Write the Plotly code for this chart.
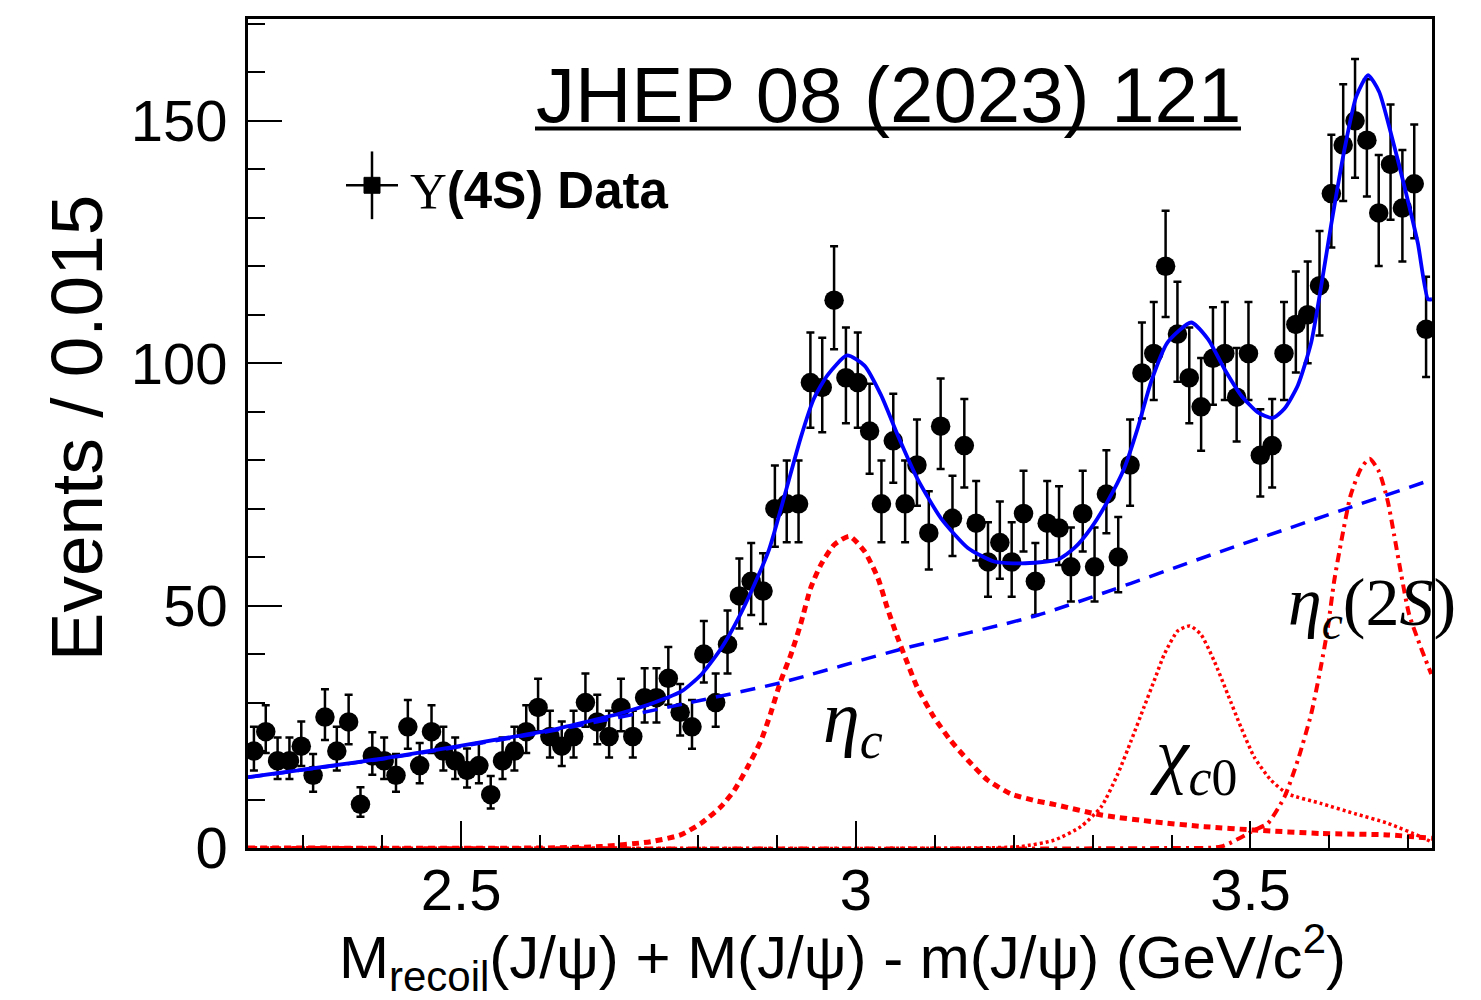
import numpy as np
import plotly.graph_objects as go

# ---------------- data ----------------
bin_width = 0.015
x_first = 2.2375
counts = [20, 24, 18, 18, 21, 15, 27, 20, 26, 9,
          19, 18, 15, 25, 17, 24, 20, 18, 16, 17,
          11, 18, 20, 24, 29, 23, 21, 23, 30, 26,
          23, 29, 23, 31, 31, 35, 28, 25, 40, 30,
          42, 52, 55, 53, 70, 71, 71, 96, 95, 113,
          97, 96, 86, 71, 84, 71, 79, 65, 87, 68,
          83, 67, 59, 63, 59, 69, 55, 67, 66, 58,
          69, 58, 73, 60, 79, 98, 102, 120, 106, 97,
          91, 101, 102, 93, 102, 81, 83, 102, 108, 110,
          116, 135, 145, 150, 146, 131, 141, 132, 137, 107]
x_bins = [round(x_first + bin_width * i, 4) for i in range(len(counts))]

# total fit (blue solid)
tot_x = [2.23, 2.41, 2.575, 2.61, 2.70, 2.745, 2.78, 2.805, 2.83, 2.85, 2.87, 2.89,
         2.91, 2.93, 2.947, 2.964, 2.989, 3.011, 3.032, 3.053, 3.078, 3.108, 3.142,
         3.175, 3.21, 3.256, 3.277, 3.298, 3.319, 3.340, 3.357, 3.374, 3.395, 3.425,
         3.446, 3.467, 3.488, 3.509, 3.528, 3.543, 3.560, 3.577, 3.589, 3.602, 3.619,
         3.634, 3.649, 3.663, 3.678, 3.695, 3.712, 3.725, 3.73]
tot_y = [14.6, 18.7, 23.2, 24.2, 27.7, 30.0, 32.4, 35.9, 41.3, 47.0, 53.8, 61.5,
         72.8, 84.5, 92.7, 97.5, 101.6, 99.5, 93.4, 85.2, 76.2, 68.0, 61.9,
         59.1, 58.7, 59.5, 61.9, 66.0, 71.5, 78.3, 86.5, 96.1, 104.3, 108.4,
         105.0, 98.8, 93.4, 89.9, 88.7, 90.6, 95.4, 104.3, 115.3, 128.3, 144.0,
         155.0, 159.4, 156.0, 147.4, 136.5, 124.8, 113.2, 113.2]

# background (blue dashed)
bkg_x = [2.23, 2.41, 2.61, 2.79, 2.905, 3.057, 3.23, 3.463, 3.73]
bkg_y = [14.6, 18.6, 24.0, 30.0, 34.1, 41.0, 48.0, 61.2, 76.0]

# eta_c component (red dashed)
etac_x = [2.23, 2.60, 2.677, 2.74, 2.778, 2.804, 2.829, 2.846, 2.863, 2.880, 2.892,
          2.905, 2.918, 2.930, 2.943, 2.956, 2.973, 2.992, 3.011, 3.028, 3.040, 3.053,
          3.066, 3.078, 3.099, 3.120, 3.142, 3.167, 3.196, 3.226, 3.251, 3.311, 3.378,
          3.442, 3.505, 3.589, 3.674, 3.73]
etac_y = [0.0, 0.0, 0.3, 1.3, 2.7, 5.1, 8.5, 11.9, 16.7, 22.2, 27.7,
          34.5, 40.0, 46.1, 53.7, 58.5, 62.6, 64.3, 61.2, 55.7, 49.5, 43.4,
          37.9, 33.1, 27.0, 22.2, 18.1, 14.0, 11.2, 9.8, 9.0, 6.8, 5.4,
          4.4, 3.7, 3.0, 2.7, 2.0]

# chi_c0 component (red dotted)
chic0_x = [2.23, 3.15, 3.209, 3.251, 3.285, 3.311, 3.332, 3.349, 3.365, 3.378, 3.391,
           3.408, 3.423, 3.437, 3.454, 3.471, 3.488, 3.505, 3.526, 3.547, 3.589, 3.632,
           3.674, 3.716, 3.73]
chic0_y = [0.0, 0.0, 0.3, 1.6, 4.4, 8.5, 15.3, 22.2, 29.0, 34.5, 40.0,
           44.8, 45.8, 44.1, 38.6, 31.8, 24.9, 18.7, 14.0, 11.2, 9.2, 7.1,
           5.1, 2.3, 1.2]

# eta_c(2S) component (red dash-dot)
etac2s_x = [2.23, 3.40, 3.463, 3.505, 3.522, 3.543, 3.560, 3.577, 3.589, 3.598, 3.606,
            3.615, 3.627, 3.640, 3.651, 3.663, 3.674, 3.682, 3.691, 3.701, 3.716, 3.729]
etac2s_y = [0.0, 0.0, 0.3, 3.7, 5.1, 10.5, 18.1, 27.7, 37.2, 45.4, 55.0,
            63.2, 72.8, 78.3, 80.3, 77.6, 71.5, 64.6, 56.4, 48.2, 41.3, 35.9]

# ---------------- figure ----------------
n = np.array(counts, dtype=float)
err_up = 0.5 + np.sqrt(n + 0.25)
err_dn = np.sqrt(n + 0.25) - 0.5

fig = go.Figure()

fig.add_trace(go.Scatter(
    x=x_bins, y=counts, mode="markers",
    marker=dict(symbol="circle", size=19.5, color="black"),
    error_y=dict(type="data", symmetric=False, array=err_up, arrayminus=err_dn,
                 color="black", thickness=2.5, width=4),
    showlegend=False, name="Υ(4S) Data"))

red = "#ff0000"
fig.add_trace(go.Scatter(x=etac_x, y=etac_y, mode="lines",
                         line=dict(color=red, width=5, dash="7px,5px", shape="spline", smoothing=0.6),
                         showlegend=False))
fig.add_trace(go.Scatter(x=chic0_x, y=chic0_y, mode="lines",
                         line=dict(color=red, width=3.5, dash="3px,3px", shape="spline", smoothing=0.6),
                         showlegend=False))
fig.add_trace(go.Scatter(x=etac2s_x, y=etac2s_y, mode="lines",
                         line=dict(color=red, width=4, dash="9px,5px,3px,5px", shape="spline", smoothing=0.6),
                         showlegend=False))
fig.add_trace(go.Scatter(x=bkg_x, y=bkg_y, mode="lines",
                         line=dict(color="#0000ff", width=3.5, dash="15px,10px", shape="spline", smoothing=0.6),
                         showlegend=False))
fig.add_trace(go.Scatter(x=tot_x, y=tot_y, mode="lines",
                         line=dict(color="#0000ff", width=3.8, shape="spline", smoothing=0.6),
                         showlegend=False))

sans = "Liberation Sans, Arial, Helvetica, sans-serif"
serif = "Liberation Serif, Times New Roman, serif"

fig.update_xaxes(range=[2.23, 3.73], showline=True, linecolor="black", linewidth=2.5,
                 mirror=True, ticks="inside", ticklen=27, tickwidth=2, tickcolor="black",
                 tick0=2.5, dtick=0.5, showgrid=False, zeroline=False,
                 tickfont=dict(family=sans, size=58, color="black"),
                 ticklabelstandoff=-10,
                 minor=dict(ticks="inside", ticklen=13, tickwidth=2, tickcolor="black",
                            dtick=0.1, showgrid=False))
fig.update_yaxes(range=[0, 171], showline=True, linecolor="black", linewidth=2.5,
                 mirror=True, ticks="inside", ticklen=34, tickwidth=2, tickcolor="black",
                 tick0=0, dtick=50, showgrid=False, zeroline=False,
                 tickfont=dict(family=sans, size=58, color="black"),
                 ticklabelstandoff=6,
                 minor=dict(ticks="inside", ticklen=17, tickwidth=2, tickcolor="black",
                            dtick=10, showgrid=False))

# page body has an 8px margin; work in page pixels and subtract it
OFF = 8
W, H = 1481 - OFF, 1000 - OFF
L, R, T, B = 248, 1432, 16, 848.5
pw, ph = R - L, B - T


def px(xp):
    return (xp - L) / pw


def py(yp):
    return (B - yp) / ph


annotations = [
    dict(text="JHEP 08 (2023) 121", x=px(888), y=py(92), xref="paper", yref="paper",
         xanchor="center", yanchor="middle", showarrow=False,
         font=dict(family=sans, size=78, color="black")),
    dict(text="<span style='font-family:Liberation Serif'>Υ</span><b>(4S) Data</b>",
         x=px(408), y=py(188), xref="paper", yref="paper", xanchor="left", yanchor="middle",
         showarrow=False, font=dict(family=sans, size=51, color="black")),
    dict(text="Events / 0.015", x=px(76), y=py(427), xref="paper", yref="paper",
         xanchor="center", yanchor="middle", textangle=-90, showarrow=False,
         font=dict(family=sans, size=73, color="black")),
    dict(text="M<sub>recoil</sub>(J/ψ) + M(J/ψ) - m(J/ψ) (GeV/c<sup>2</sup>)",
         x=px(842), y=py(958), xref="paper", yref="paper", xanchor="center", yanchor="middle",
         showarrow=False, font=dict(family=sans, size=60, color="black")),
    dict(text="<i>η</i><sub><i>c</i></sub>", x=px(853), y=py(722), xref="paper", yref="paper",
         xanchor="center", yanchor="middle", showarrow=False,
         font=dict(family=serif, size=74, color="black")),
    dict(text="<i>χ</i><sub><i>c</i>0</sub>", x=px(1193), y=py(760), xref="paper", yref="paper",
         xanchor="center", yanchor="middle", showarrow=False,
         font=dict(family=serif, size=74, color="black")),
    dict(text="<i>η</i><sub><i>c</i></sub>(2<i>S</i>)", x=px(1372), y=py(606), xref="paper",
         yref="paper", xanchor="center", yanchor="middle", showarrow=False,
         font=dict(family=serif, size=68, color="black")),
]

# legend glyph (error-bar cross with square marker) and title underline, in paper coordinates
lx, ly = 372, 183
shapes = [
    dict(type="line", xref="paper", yref="paper", x0=px(lx - 26), x1=px(lx + 26), y0=py(ly), y1=py(ly),
         line=dict(color="black", width=2.5)),
    dict(type="line", xref="paper", yref="paper", x0=px(lx), x1=px(lx), y0=py(ly - 34), y1=py(ly + 34),
         line=dict(color="black", width=2.5)),
    dict(type="rect", xref="paper", yref="paper", x0=px(lx - 8), x1=px(lx + 8), y0=py(ly + 8), y1=py(ly - 8),
         line=dict(color="black", width=1), fillcolor="black"),
    dict(type="line", xref="paper", yref="paper", x0=px(535), x1=px(1241), y0=py(126), y1=py(126),
         line=dict(color="black", width=4)),
]

fig.update_layout(width=W, height=H,
                  margin=dict(l=L - OFF, r=(1481 - OFF) - (R - OFF), t=T - OFF, b=H - (B - OFF), pad=0),
                  plot_bgcolor="white", paper_bgcolor="white",
                  annotations=annotations, shapes=shapes, showlegend=False)

fig.write_html("out.html")
